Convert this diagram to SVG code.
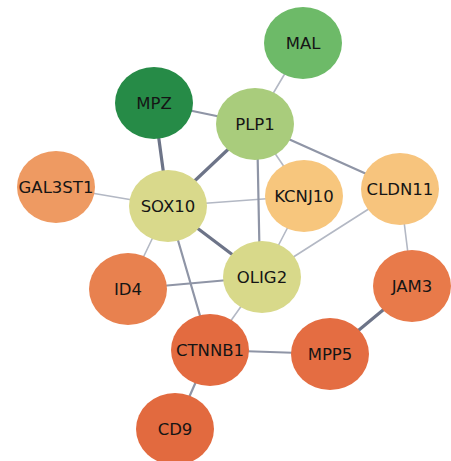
<svg xmlns="http://www.w3.org/2000/svg" width="451" height="461" viewBox="0 0 451 461">
<style>
.e{fill:none;stroke-linecap:round}
.t{stroke:#b3b8c4;stroke-width:1.6}
.m{stroke:#8f95a6;stroke-width:2.2}
.k{stroke:#6d7488;stroke-width:3.2}
.n text{font-family:"DejaVu Sans",Verdana,sans-serif;font-size:16.5px;fill:#151515;text-anchor:middle;dominant-baseline:central}
</style>
<rect width="451" height="461" fill="#fff"/>
<g id="edges" class="e">
<line class="t" x1="303" y1="43" x2="255" y2="124"/>
<line class="m" x1="154" y1="103" x2="255" y2="124"/>
<line class="k" x1="154" y1="103" x2="168" y2="206"/>
<line class="t" x1="56" y1="187" x2="168" y2="206"/>
<line class="k" x1="168" y1="206" x2="255" y2="124"/>
<line class="t" x1="168" y1="206" x2="304" y2="196"/>
<line class="k" x1="168" y1="206" x2="262" y2="277"/>
<line class="t" x1="168" y1="206" x2="128" y2="289"/>
<line class="m" x1="168" y1="206" x2="210" y2="350"/>
<line class="m" x1="257" y1="124" x2="260" y2="277"/>
<line class="t" x1="255" y1="124" x2="304" y2="196"/>
<line class="m" x1="255" y1="124" x2="400" y2="189"/>
<line class="t" x1="304" y1="196" x2="262" y2="277"/>
<line class="t" x1="400" y1="189" x2="262" y2="277"/>
<line class="t" x1="400" y1="189" x2="412" y2="286"/>
<line class="m" x1="128" y1="289" x2="262" y2="277"/>
<line class="t" x1="262" y1="277" x2="210" y2="350"/>
<line class="m" x1="210" y1="350" x2="330" y2="354"/>
<line class="k" x1="330" y1="354" x2="412" y2="286"/>
<line class="m" x1="210" y1="350" x2="175" y2="429"/>
</g>
<g id="MAL" class="n"><ellipse cx="303" cy="43" rx="39" ry="36" fill="#6dba68"/><text x="303" y="43">MAL</text></g>
<g id="MPZ" class="n"><ellipse cx="154" cy="103" rx="39" ry="36" fill="#268b47"/><text x="154" y="103">MPZ</text></g>
<g id="PLP1" class="n"><ellipse cx="255" cy="124" rx="39" ry="36" fill="#a9cc7c"/><text x="255" y="124">PLP1</text></g>
<g id="GAL3ST1" class="n"><ellipse cx="56" cy="187" rx="39" ry="36" fill="#ee9a62"/><text x="56" y="187">GAL3ST1</text></g>
<g id="SOX10" class="n"><ellipse cx="168" cy="206" rx="39" ry="36" fill="#d9d98b"/><text x="168" y="206">SOX10</text></g>
<g id="KCNJ10" class="n"><ellipse cx="304" cy="196" rx="39" ry="36" fill="#f7c67d"/><text x="304" y="196">KCNJ10</text></g>
<g id="CLDN11" class="n"><ellipse cx="400" cy="189" rx="39" ry="36" fill="#f7c47d"/><text x="400" y="189">CLDN11</text></g>
<g id="OLIG2" class="n"><ellipse cx="262" cy="277" rx="39" ry="36" fill="#d8d98a"/><text x="262" y="277">OLIG2</text></g>
<g id="ID4" class="n"><ellipse cx="128" cy="289" rx="39" ry="36" fill="#e8814f"/><text x="128" y="289">ID4</text></g>
<g id="JAM3" class="n"><ellipse cx="412" cy="286" rx="39" ry="36" fill="#e87a4a"/><text x="412" y="286">JAM3</text></g>
<g id="CTNNB1" class="n"><ellipse cx="210" cy="350" rx="39" ry="36" fill="#e36b40"/><text x="210" y="350">CTNNB1</text></g>
<g id="MPP5" class="n"><ellipse cx="330" cy="354" rx="39" ry="36" fill="#e46d42"/><text x="330" y="354">MPP5</text></g>
<g id="CD9" class="n"><ellipse cx="175" cy="429" rx="39" ry="36" fill="#e26a3f"/><text x="175" y="429">CD9</text></g>
</svg>
